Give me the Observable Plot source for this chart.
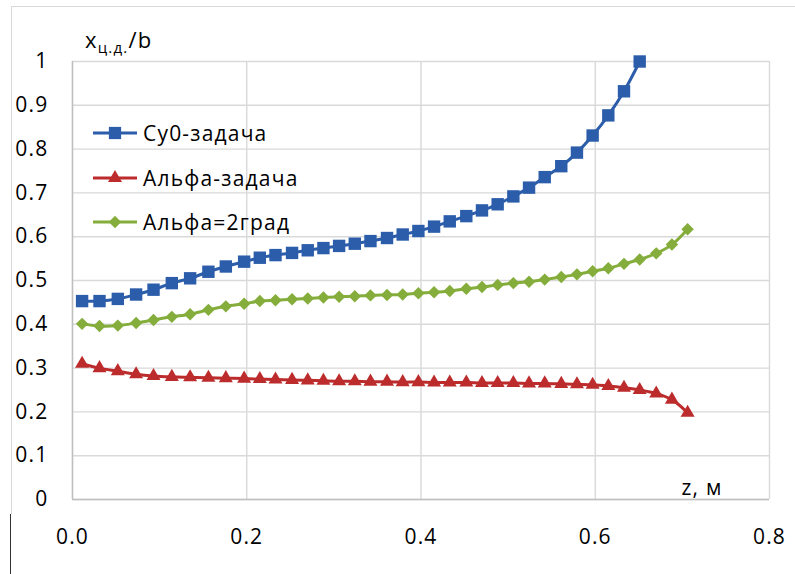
<!DOCTYPE html>
<html>
<head>
<meta charset="utf-8">
<script src="https://cdn.jsdelivr.net/npm/d3@7"></script>
<script src="https://cdn.jsdelivr.net/npm/@observablehq/plot@0.6"></script>
<style>
  body { margin: 0; background: #fff; }
  #wrap { position: relative; width: 795px; height: 574px; overflow: hidden; font-family: "Open Sans", sans-serif; }
  #wrap svg { position: absolute; left: 0; top: 0; }
  #wrap svg text { letter-spacing: 1.2px; }
  .frame-top { position: absolute; left: 11px; top: 6px; width: 784px; height: 0; border-top: 1px solid #d9d9d9; }
  .frame-left { position: absolute; left: 11px; top: 6px; width: 0; height: 508px; border-left: 1px solid #d9d9d9; }
  .frame-mark { position: absolute; left: 10px; top: 514px; width: 0; height: 60px; border-left: 1.5px solid #333; }
  .legend { position: absolute; left: 93px; top: 0; }
  .legend .item { position: absolute; left: 0; height: 30px; display: flex; align-items: center; white-space: nowrap; font-size: 21px; letter-spacing: 1.2px; color: #000; }
  .legend svg { position: static !important; margin-right: 6px; }
</style>
</head>
<body>
<div id="wrap">
  <div class="frame-top"></div>
  <div class="frame-left"></div>
  <div class="frame-mark"></div>
</div>
<script>
// Span stations z (m), shared by all three series
const z = [0.011, 0.031, 0.052, 0.073, 0.093, 0.114, 0.135, 0.156, 0.176, 0.197,
           0.215, 0.233, 0.252, 0.270, 0.288, 0.306, 0.324, 0.342, 0.361, 0.379,
           0.397, 0.415, 0.433, 0.452, 0.470, 0.488, 0.506, 0.524, 0.542, 0.561,
           0.579, 0.597, 0.615, 0.633, 0.651, 0.670, 0.688, 0.706];

// x_cp / b for each problem
const cy0 = [0.453, 0.453, 0.458, 0.468, 0.479, 0.494, 0.505, 0.520, 0.532, 0.543,
             0.552, 0.558, 0.563, 0.569, 0.574, 0.579, 0.584, 0.590, 0.597, 0.605,
             0.613, 0.623, 0.635, 0.647, 0.660, 0.674, 0.692, 0.712, 0.736, 0.761,
             0.792, 0.831, 0.877, 0.932, 1.000];
const alpha = [0.310, 0.300, 0.293, 0.286, 0.282, 0.280, 0.279, 0.278, 0.277, 0.276,
               0.275, 0.274, 0.273, 0.272, 0.271, 0.270, 0.270, 0.269, 0.269, 0.268,
               0.268, 0.267, 0.267, 0.267, 0.266, 0.266, 0.266, 0.265, 0.265, 0.264,
               0.263, 0.262, 0.259, 0.255, 0.250, 0.242, 0.228, 0.198];
const alpha2 = [0.401, 0.396, 0.397, 0.403, 0.410, 0.417, 0.423, 0.433, 0.441, 0.447,
                0.453, 0.455, 0.457, 0.459, 0.461, 0.463, 0.464, 0.466, 0.467, 0.468,
                0.471, 0.473, 0.476, 0.481, 0.485, 0.490, 0.494, 0.497, 0.502, 0.508,
                0.514, 0.521, 0.528, 0.538, 0.548, 0.562, 0.582, 0.617];

const seriesNames = ["Cy0-задача", "Альфа-задача", "Альфа=2град"];
const seriesColors = ["#2c5daa", "#bd2c2c", "#84ad3b"];
const seriesSymbols = ["square", "triangle", "diamond2"];
const seriesR = [7.0, 5.2, 5.6];

const xTicks = [0, 0.2, 0.4, 0.6, 0.8];
const yTicks = [0, 0.1, 0.2, 0.3, 0.4, 0.5, 0.6, 0.7, 0.8, 0.9, 1];

const toRows = (vals) => vals.map((v, i) => ({z: z[i], v}));
const tables = [toRows(cy0), toRows(alpha), toRows(alpha2)];

const seriesMarks = tables.flatMap((rows, k) => [
  Plot.line(rows, {x: "z", y: "v", stroke: seriesColors[k], strokeWidth: 3, curve: "catmull-rom"}),
  Plot.dot(rows, {x: "z", y: "v", symbol: () => seriesSymbols[k], r: seriesR[k], fill: seriesColors[k], stroke: "none"})
]);

const chart = Plot.plot({
  width: 795,
  height: 574,
  marginLeft: 72,
  marginRight: 26,
  marginTop: 61,
  marginBottom: 75,
  style: {fontFamily: "'Open Sans', sans-serif", fontSize: "21px", color: "#000", background: "transparent", overflow: "visible"},
  x: {domain: [0, 0.8], ticks: xTicks, tickFormat: d => d.toFixed(1), tickSize: 0, tickPadding: 30, label: null},
  y: {domain: [0, 1], ticks: yTicks, tickFormat: d => String(d), tickSize: 0, tickPadding: 24, label: null},
  symbol: {type: "identity"},
  marks: [
    Plot.ruleX(xTicks, {stroke: "#d9d9d9", strokeWidth: 1.4}),
    Plot.ruleY(yTicks, {stroke: "#d9d9d9", strokeWidth: 1.4}),
    Plot.ruleX([0], {stroke: "#bfbfbf", strokeWidth: 1.4}),
    Plot.ruleY([0], {stroke: "#bfbfbf", strokeWidth: 1.4}),
    ...seriesMarks,
    Plot.text(["z, м"], {frameAnchor: "bottom-right", dx: -47, dy: -11, textAnchor: "end", lineAnchor: "middle", fontSize: 21, fill: "#000"})
  ]
});

const wrap = document.getElementById("wrap");
wrap.appendChild(chart);

// Y axis title with subscript
const svg = d3.select(chart);
const title = svg.append("text")
  .attr("x", 85).attr("y", 48)
  .attr("text-anchor", "start")
  .attr("font-size", 22).attr("fill", "#000")
  .attr("font-family", "'Open Sans', sans-serif");
title.append("tspan").text("x");
title.append("tspan").attr("font-size", 15).attr("dy", 5).text("ц.д.");
title.append("tspan").attr("dy", -5).text("/b");

// Legend inside the plot area
const legend = document.createElement("div");
legend.className = "legend";
wrap.appendChild(legend);
const legendRows = [133, 178, 222];
const symbolSize = {square: 150, triangle: 85, diamond2: 98};
const d3Symbols = {square: d3.symbolSquare, triangle: d3.symbolTriangle, diamond2: d3.symbolDiamond2};
seriesNames.forEach((name, k) => {
  const item = document.createElement("div");
  item.className = "item";
  item.style.top = (legendRows[k] - 15) + "px";
  const s = d3.create("svg").attr("width", 44).attr("height", 20);
  s.append("line").attr("x1", 0).attr("x2", 44).attr("y1", 10).attr("y2", 10)
    .attr("stroke", seriesColors[k]).attr("stroke-width", 3);
  s.append("path").attr("transform", "translate(22,10)")
    .attr("d", d3.symbol(d3Symbols[seriesSymbols[k]], symbolSize[seriesSymbols[k]])())
    .attr("fill", seriesColors[k]);
  item.appendChild(s.node());
  const label = document.createElement("span");
  label.textContent = name;
  item.appendChild(label);
  legend.appendChild(item);
});
</script>
</body>
</html>
